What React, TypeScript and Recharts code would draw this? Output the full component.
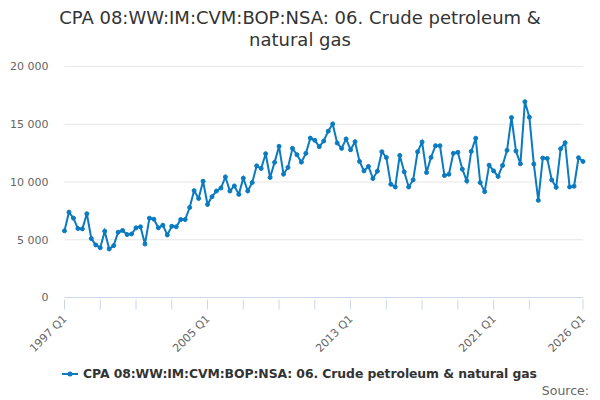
import React from 'react';
import { LineChart, Line, XAxis, YAxis, CartesianGrid } from 'recharts';

const years: number[] = [];
for (let y = 1997; y <= 2026; y++) years.push(y);
const quarterNames = ['Q1', 'Q2', 'Q3', 'Q4'];
const categories: string[] = [];
years.forEach((y) => quarterNames.forEach((q) => categories.push(`${y} ${q}`)));
categories.splice(117);

const values: number[] = [
  5770, 7390, 6870, 5970, 5940, 7250, 5100, 4550, 4310, 5740,
  4200, 4490, 5650, 5800, 5450, 5500, 6030, 6120, 4630, 6870,
  6780, 6030, 6260, 5420, 6170, 6120, 6750, 6750, 7790, 9250,
  8580, 10070, 8060, 8730, 9220, 9480, 10440, 9220, 9660, 8930,
  10330, 9220, 9950, 11400, 11170, 12450, 10390, 11700, 13090, 10680,
  11260, 12910, 12360, 11720, 12480, 13800, 13610, 13060, 13550, 14400,
  15030, 13380, 12910, 13730, 12790, 13490, 11780, 10960, 11350, 10300,
  10940, 12620, 12130, 9800, 9570, 12300, 10880, 9570, 10180, 12620,
  13460, 10820, 12130, 13140, 13140, 10560, 10670, 12480, 12570, 11110,
  10090, 12650, 13790, 9950, 9170, 11460, 10960, 10480, 11430, 12740,
  15580, 12680, 11570, 16950, 15610, 11550, 8410, 12070, 12040, 10180,
  9540, 12880, 13400, 9570, 9630, 12100, 11780,
];

const xTicks: string[] = [
  '1997 Q1', '1999 Q1', '2001 Q1', '2003 Q1', '2005 Q1', '2007 Q1', '2009 Q1',
  '2011 Q1', '2013 Q1', '2015 Q1', '2017 Q1', '2019 Q1', '2021 Q1', '2023 Q1',
  '2026 Q1',
];
const xLabels: string[] = ['1997 Q1', '2005 Q1', '2013 Q1', '2021 Q1', '2026 Q1'];
const yTicks: number[] = [0, 5000, 10000, 15000, 20000];

const seriesName = 'CPA 08:WW:IM:CVM:BOP:NSA: 06. Crude petroleum & natural gas';
const titleLines = ['CPA 08:WW:IM:CVM:BOP:NSA: 06. Crude petroleum &', 'natural gas'];

const data = categories.map((c, i) => ({ quarter: c, value: values[i] }));

const COLOR = '#0b7bc1';
const FONT = '"DejaVu Sans", sans-serif';

const fmt = (v: number) => (v >= 1000 ? `${Math.floor(v / 1000)} ${String(v % 1000).padStart(3, '0')}` : String(v));

const XTick = (props: any) => {
  const { x, y, payload } = props;
  const show = xLabels.includes(payload.value);
  return (
    <g>
      <line x1={x} x2={x} y1={y - 8} y2={y + 2} stroke="#ccd6eb" strokeWidth={1} />
      {show && (
        <text
          x={x + 3}
          y={y + 12}
          textAnchor="end"
          fontSize={11}
          fontFamily={FONT}
          fill="#666666"
          transform={`rotate(-45, ${x + 3}, ${y + 12})`}
        >
          {payload.value}
        </text>
      )}
    </g>
  );
};

export default function App() {
  return (
    <div style={{ position: 'absolute', left: 0, top: 0, width: 600, height: 400, background: '#fff', fontFamily: FONT }}>
      <svg width={600} height={60} style={{ position: 'absolute', left: 0, top: 0 }}>
        {titleLines.map((t, i) => (
          <text key={i} x={300} y={24 + i * 22} textAnchor="middle" fontSize={18} fontFamily={FONT} fill="#333333">
            {t}
          </text>
        ))}
      </svg>
      <div style={{ position: 'absolute', left: 0, top: 0 }}>
        <LineChart width={600} height={400} data={data} margin={{ top: 66.5, right: 17, left: 0, bottom: 0 }}>
          <CartesianGrid vertical={false} stroke="#e6e6e6" horizontalValues={yTicks} />
          <XAxis
            dataKey="quarter"
            ticks={xTicks}
            interval={0}
            tick={<XTick />}
            tickLine={false}
            axisLine={{ stroke: '#ccd6eb' }}
            height={102.5}
            tickSize={8}
          />
          <YAxis
            domain={[0, 20000]}
            ticks={yTicks}
            tickFormatter={fmt}
            axisLine={false}
            tickLine={false}
            width={64.5}
            tickSize={0}
            tickMargin={16}
            tick={{ fontSize: 11, fill: '#666666', fontFamily: FONT }}
          />
          <Line
            type="linear"
            dataKey="value"
            stroke={COLOR}
            strokeWidth={2}
            dot={{ r: 2, fill: COLOR, stroke: COLOR, strokeWidth: 1 }}
            isAnimationActive={false}
          />
        </LineChart>
      </div>
      <svg width={600} height={400} style={{ position: 'absolute', left: 0, top: 0, pointerEvents: 'none' }}>
        <line x1={62} x2={78} y1={374} y2={374} stroke={COLOR} strokeWidth={2} />
        <circle cx={70} cy={374} r={2.5} fill={COLOR} />
        <text
          x={83}
          y={377.5}
          fontSize={12.4}
          fontWeight="bold"
          fontFamily={FONT}
          fill="#333333"
          textLength={454}
          lengthAdjust="spacing"
        >
          {seriesName}
        </text>
        <text x={589} y={395} textAnchor="end" fontSize={12.5} fontFamily={FONT} fill="#666666">
          Source:
        </text>
      </svg>
    </div>
  );
}
